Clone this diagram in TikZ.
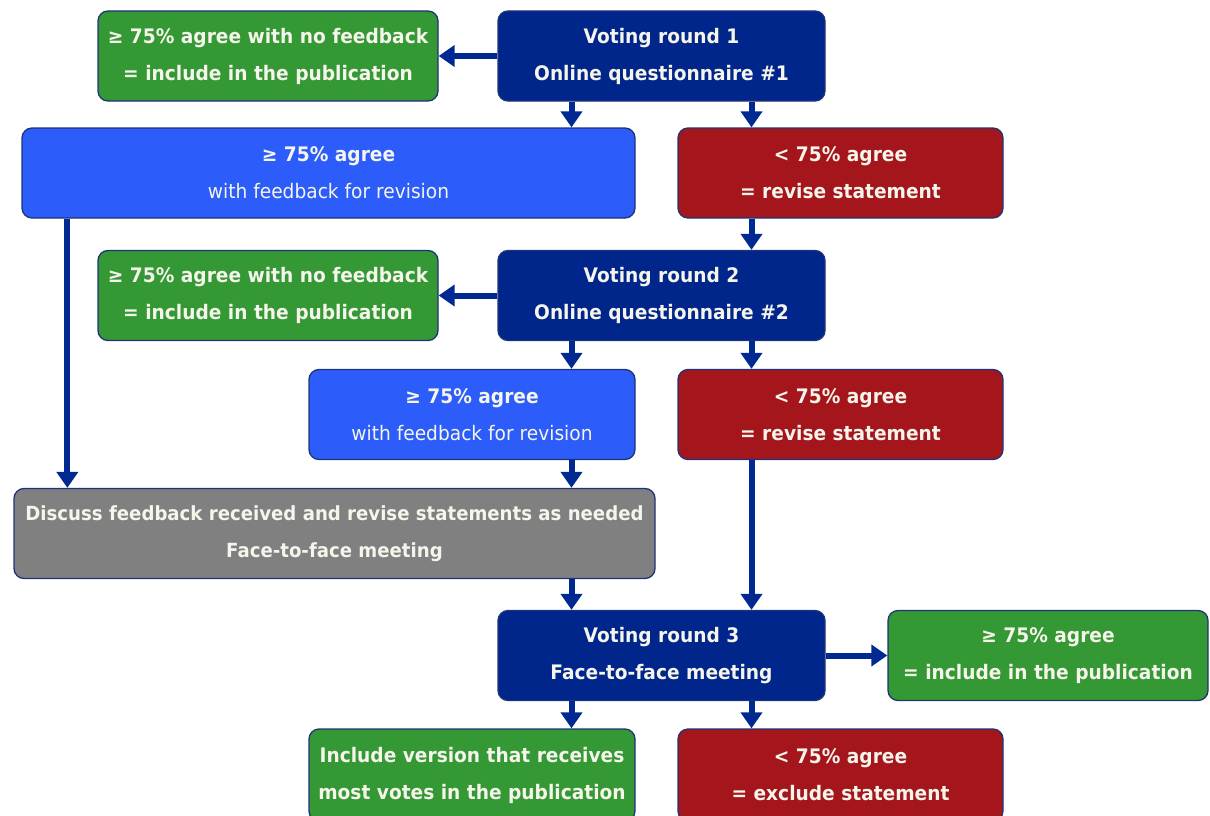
\documentclass[tikz,border=0pt]{standalone}
\usepackage{fontspec}
\setmainfont{DejaVu Sans}[FakeStretch=0.93]
\usepackage{tikz}
\usetikzlibrary{arrows.meta}
\definecolor{navy}{RGB}{0,38,140}
\definecolor{brightblue}{RGB}{44,92,250}
\definecolor{darkred}{RGB}{164,22,28}
\definecolor{okgreen}{RGB}{52,152,52}
\definecolor{midgray}{RGB}{128,128,128}
\definecolor{edge}{RGB}{30,52,120}
\definecolor{arrowblue}{RGB}{0,42,145}
\definecolor{paper}{RGB}{245,245,235}

\begin{document}
\begin{tikzpicture}[x=1pt,y=-1pt,
    box/.style={draw=edge,line width=1.3pt,rounded corners=10pt,align=center,
      text=paper,minimum height=90pt,inner sep=2pt,
      execute at begin node=\rule{0pt}{25pt},
      font=\fontsize{20}{37}\selectfont\bfseries},
    vote/.style={box,fill=navy,minimum width=327pt},
    yes/.style={box,fill=okgreen},
    no/.style={box,fill=darkred,minimum width=325pt},
    fb/.style={box,fill=brightblue},
    meet/.style={box,fill=midgray},
    flow/.style={draw=arrowblue,line width=6pt,-{Triangle[length=16pt,width=21pt]}}]
  \useasboundingbox (0,0) rectangle (1210,816); % page
  % round 1
  \node[vote] (v1) at (661.5,56) {Voting round 1\\Online questionnaire \#1};
  \node[yes,minimum width=340pt] (g1) at (268,56) {≥ 75\% agree with no feedback\\= include in the publication};
  \node[fb,minimum width=613pt] (b1) at (328.5,173) {≥ 75\% agree\\{\mdseries with feedback for revision}};
  \node[no] (r1) at (840.5,173) {< 75\% agree\\= revise statement};
  % round 2
  \node[vote] (v2) at (661.5,295.5) {Voting round 2\\Online questionnaire \#2};
  \node[yes,minimum width=340pt] (g2) at (268,295.5) {≥ 75\% agree with no feedback\\= include in the publication};
  \node[fb,minimum width=326pt] (b2) at (472,414.5) {≥ 75\% agree\\{\mdseries with feedback for revision}};
  \node[no] (r2) at (840.5,414.5) {< 75\% agree\\= revise statement};
  % meeting
  \node[meet,minimum width=641pt,font=\fontsize{19.5}{37}\selectfont\bfseries] (gray) at (334.5,533.5) {Discuss feedback received and revise statements as needed\\Face-to-face meeting};
  % round 3
  \node[vote] (v3) at (661.5,655.5) {Voting round 3\\Face-to-face meeting};
  \node[yes,minimum width=320pt] (g3) at (1048,655.5) {≥ 75\% agree\\= include in the publication};
  \node[yes,minimum width=326pt,minimum height=92pt] (g4) at (472,775) {Include version that receives\\most votes in the publication};
  \node[no,minimum height=92pt] (r3) at (840.5,775) {< 75\% agree\\= exclude statement};
  % arrows
  \draw[flow] (v1.west) -- (g1.east);
  \draw[flow] ([xshift=-90pt]v1.south) -- ([xshift=-90pt]v1.south |- b1.north);
  \draw[flow] ([xshift=90pt]v1.south) -- ([xshift=90pt]v1.south |- r1.north);
  \draw[flow] ([xshift=90pt]v2.north |- r1.south) -- ([xshift=90pt]v2.north);
  \draw[flow] ([xshift=46pt]b1.south west) -- ([xshift=46pt]b1.south west |- gray.north);
  \draw[flow] (v2.west) -- (g2.east);
  \draw[flow] ([xshift=-90pt]v2.south) -- ([xshift=-90pt]v2.south |- b2.north);
  \draw[flow] ([xshift=90pt]v2.south) -- ([xshift=90pt]v2.south |- r2.north);
  \draw[flow] ([xshift=-90pt]v3.north |- b2.south) -- ([xshift=-90pt]v3.north |- gray.north);
  \draw[flow] ([xshift=-90pt]v3.north |- gray.south) -- ([xshift=-90pt]v3.north);
  \draw[flow] ([xshift=90pt]v3.north |- r2.south) -- ([xshift=90pt]v3.north);
  \draw[flow] (v3.east) -- (g3.west);
  \draw[flow] ([xshift=-90pt]v3.south) -- ([xshift=-90pt]v3.south |- g4.north);
  \draw[flow] ([xshift=90pt]v3.south) -- ([xshift=90pt]v3.south |- r3.north);
\end{tikzpicture}
\end{document}
